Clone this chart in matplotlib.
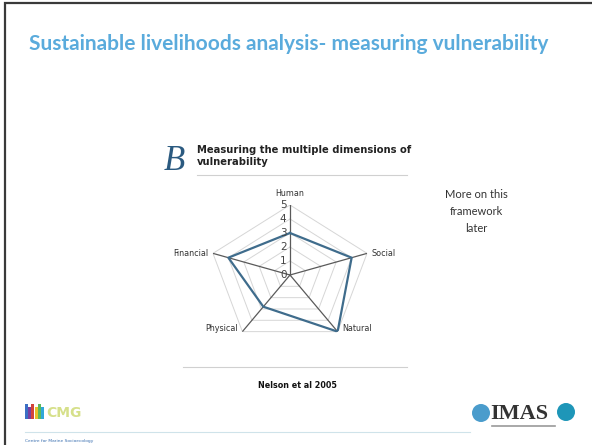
import numpy as np
import matplotlib
matplotlib.use('Agg')
import matplotlib.pyplot as plt
from matplotlib.patches import Rectangle, Circle

# Radar values
dimensions = ['Human', 'Social', 'Natural', 'Physical', 'Financial']
scores = [3, 4, 5, 2.8, 4]
levels = [0, 1, 2, 3, 4, 5]

slide_title = 'Sustainable livelihoods analysis- measuring vulnerability'
panel_title = ['Measuring the multiple dimensions of', 'vulnerability']
side_note = ['More on this', 'framework', 'later']
source = 'Nelson et al 2005'

W, H = 592, 445
fig = plt.figure(figsize=(W / 100, H / 100), dpi=100)

# slide background in pixel coordinates
bg = fig.add_axes([0, 0, 1, 1], zorder=0)
bg.set_xlim(0, W)
bg.set_ylim(H, 0)
bg.axis('off')

# slide border (left + top)
bg.plot([4.5, 4.5, W + 5], [H + 5, 2.5, 2.5], color='#3a3a3a', lw=1.6,
        solid_joinstyle='miter')

bg.text(29, 44, slide_title, fontsize=15, fontweight='bold', family='Lato',
        color='#5aabdc', ha='left', va='center')

# panel header
bg.text(164, 170, 'B', fontsize=25, family='Liberation Serif', style='italic',
        color='#2b5a80', ha='left', va='baseline')
for i, line in enumerate(panel_title):
    bg.text(197, 150 + i * 12, line, fontsize=7.2, fontweight='bold',
            color='#222222', ha='left', va='center')
bg.plot([197, 407], [175, 175], color='#d0d0d0', lw=0.8)
bg.plot([183, 407], [367, 367], color='#d0d0d0', lw=0.8)
bg.text(297, 386, source, fontsize=5.8, fontweight='bold', color='#111111',
        ha='center', va='center')

for i, line in enumerate(side_note):
    bg.text(476, 194 + i * 17.5, line, fontsize=8, family='Lato',
            color='#333333', ha='center', va='center')

# footer logos (rough)
cmg_cols = ['#3b6fc4', '#7a3fa0', '#d2443a', '#e8c02a', '#5cb85c', '#2fa7d8']
for i, c in enumerate(cmg_cols):
    bg.add_patch(Rectangle((25 + i * 3.2, 404 + (i % 2) * 3), 3, 15 - (i % 2) * 3,
                           color=c, lw=0))
bg.text(46, 413, 'CMG', fontsize=10, color='#d6e08a', ha='left', va='center',
        fontweight='bold')
bg.plot([25, 470], [432, 432], color='#cfe3ea', lw=0.8)
bg.text(25, 441, 'Centre for Marine Socioecology', fontsize=3.2, color='#3a6fb0',
        ha='left', va='center')
bg.add_patch(Circle((481, 413), 9, color='#4a9ccc', lw=0))
bg.text(490, 414, 'IMAS', fontsize=16, family='Liberation Serif', fontweight='bold',
        color='#333333', ha='left', va='center')
bg.add_patch(Circle((566, 412), 9, color='#1e96b8', lw=0))
bg.plot([492, 555], [426, 426], color='#9a9a9a', lw=1.2)

# radar chart
cx, cy, rx, ry = 290, 275, 81, 70
ax = fig.add_axes([(cx - rx) / W, (H - cy - ry) / H, 2 * rx / W, 2 * ry / H],
                  projection='polar', zorder=1)
ax.set_aspect('auto')
ax.set_facecolor('none')
ax.set_theta_zero_location('N')
ax.set_theta_direction(-1)
ax.set_ylim(0, 5)
ax.grid(False)
ax.spines['polar'].set_visible(False)
ax.set_xticks([])
ax.set_yticks([])

angles = np.deg2rad(np.arange(len(dimensions)) * 360 / len(dimensions))
closed = np.append(angles, angles[0])

for lvl in levels[1:]:
    ax.plot(closed, [lvl] * len(closed), color='#d6d6d6', lw=0.7, zorder=1)
for a in angles:
    ax.plot([a, a], [0, 5], color='#5a5a5a', lw=0.9, zorder=2)

ax.plot(closed, np.append(scores, scores[0]), color='#3f6c8c', lw=1.6, zorder=3)

for lvl in levels:
    ax.annotate(str(lvl), xy=(0, lvl), xytext=(-2.5, 0), textcoords='offset points',
                ha='right', va='center', fontsize=7.5, color='#444444')

label_pos = {
    'Human': ((0, 8), 'center'),
    'Social': ((3, 0), 'left'),
    'Natural': ((3, 2), 'left'),
    'Physical': ((-3, 2), 'right'),
    'Financial': ((-3, 0), 'right'),
}
for a, name in zip(angles, dimensions):
    off, ha = label_pos[name]
    ax.annotate(name, xy=(a, 5), xytext=off, textcoords='offset points',
                ha=ha, va='center', fontsize=5.8, color='#333333')

fig.savefig('out.png', dpi=100)
